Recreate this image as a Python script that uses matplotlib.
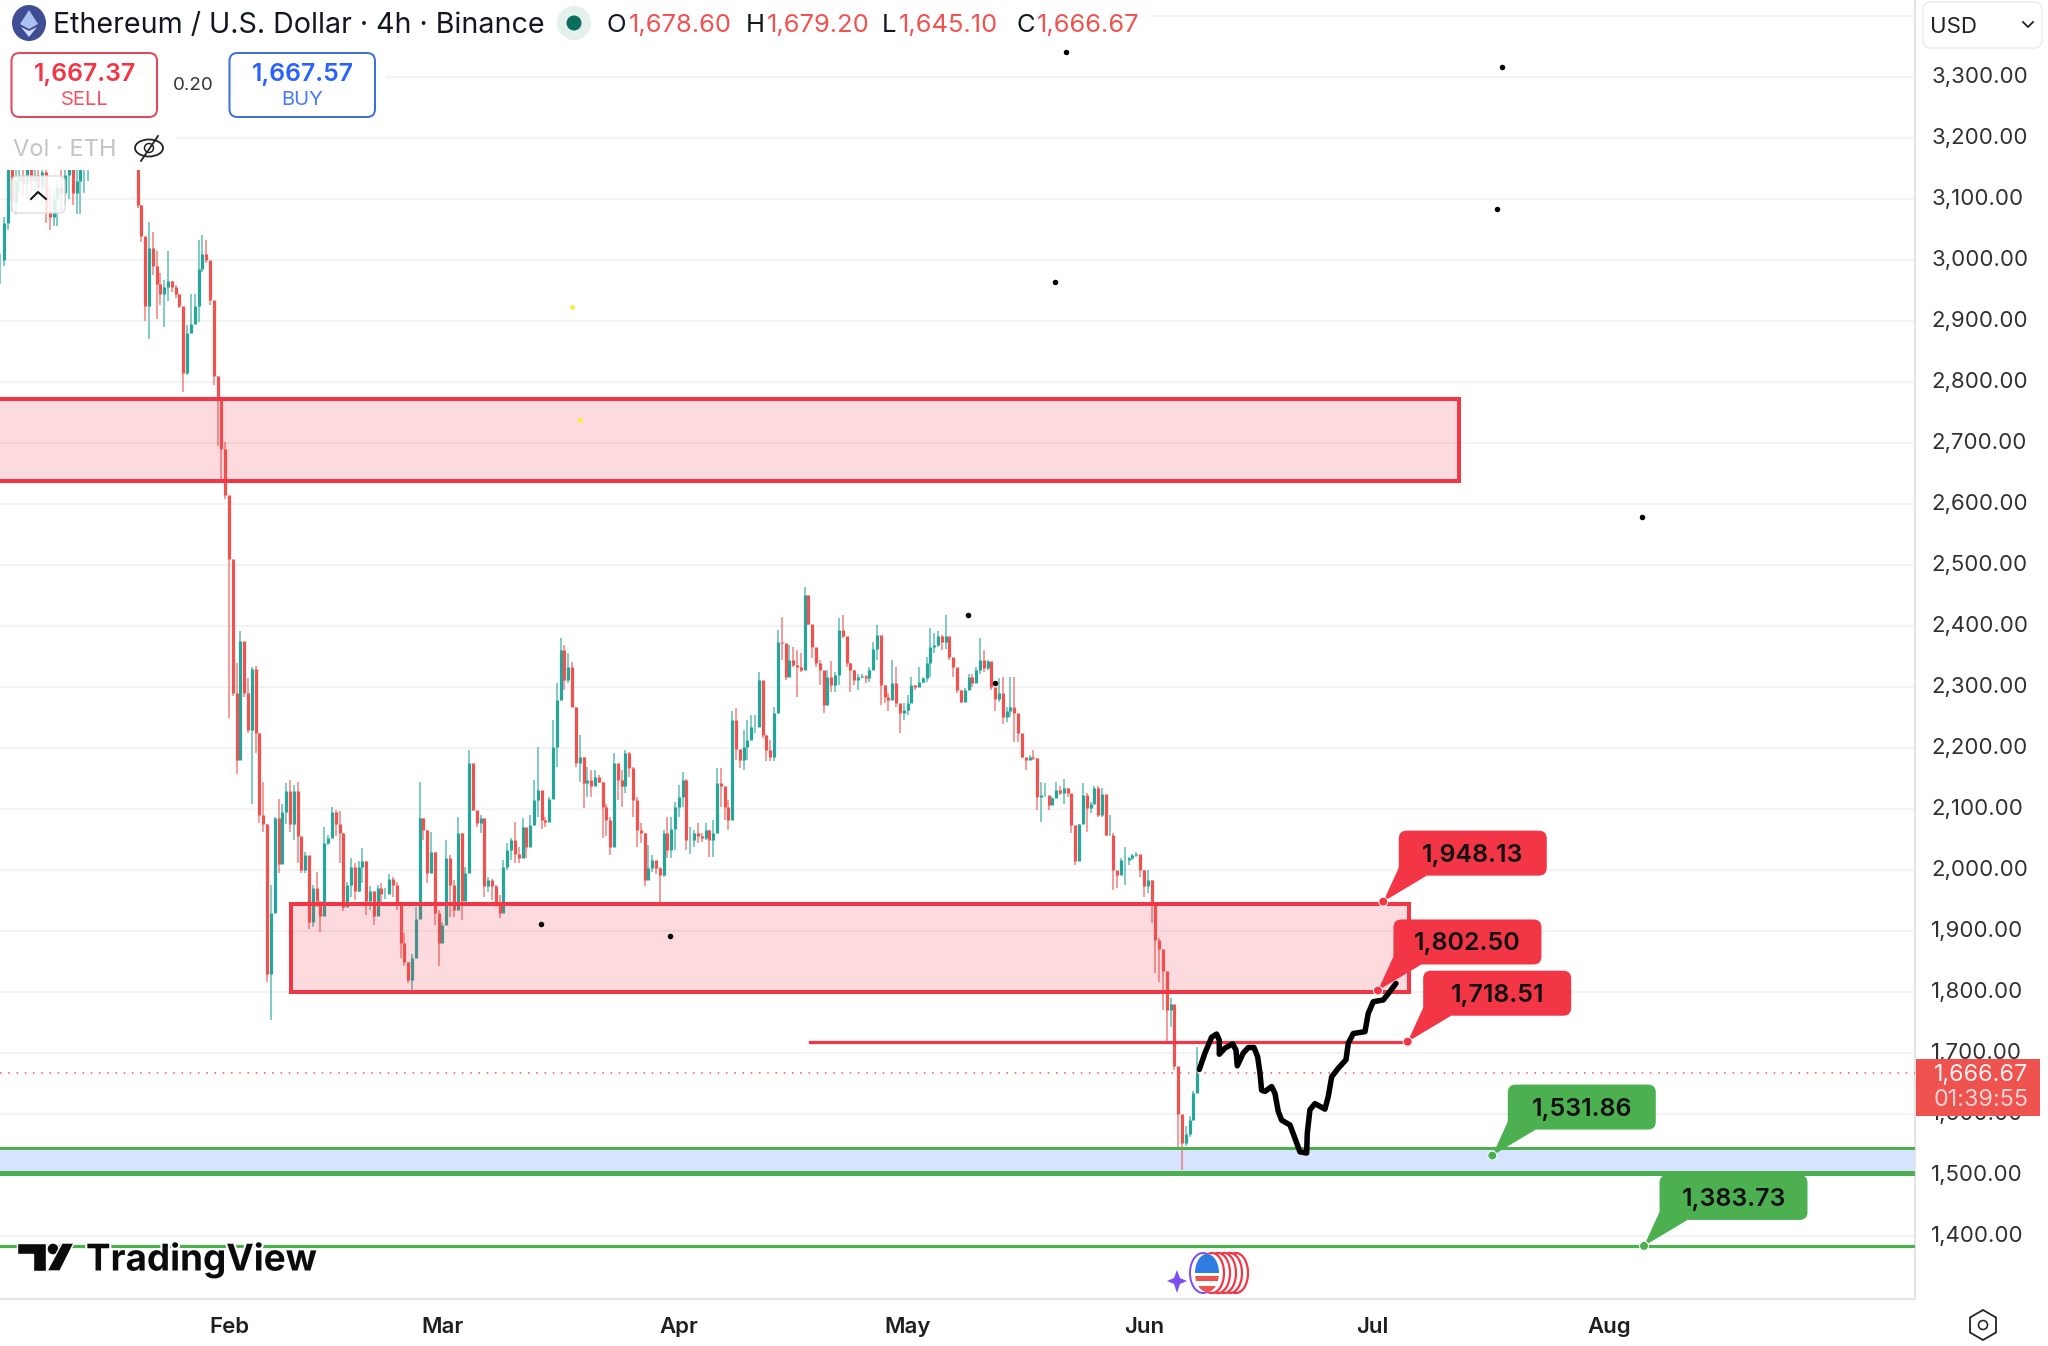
import matplotlib
matplotlib.use("Agg")
import matplotlib.pyplot as plt
import numpy as np
from matplotlib.patches import Circle, Ellipse, FancyBboxPatch, Polygon, Rectangle, RegularPolygon
from matplotlib.transforms import ScaledTranslation
import matplotlib.patheffects as pe

plt.rcParams['font.family'] = ['Inter', 'DejaVu Sans']

nan = float('nan')

# 12h candles, x is days since 1 Feb. nan = hidden behind the header
highs = [3010,3070,3175,3175,3170,3175,3175,3175,3175,3175,3175,3175,3175,3120,3110,3130,3150,3170,3175,3175,3175,3175,3180,3190,
    nan,nan,nan,nan,nan,nan,nan,nan,nan,nan,nan,nan,
    3170,3090,2998,3062,3046,3014,2978,2967,3015,2965,2959,2945,2921,2893,2945,2945,3033,3041,3033,2995,2926,2810,2762,2702,2610,2475,2340,2392,2355,2314,2333,2335,2225,2145,2075,
    1975,2087,2117,2109,2142,2147,2139,2145,2046,2030,2000,1975,1997,1940,2071,2057,2104,2098,2096,2060,1981,2019,2011,2014,2036,2015,1973,1965,1975,1978,1970,1994,1989,1981,1945,1896,1850,1863,1940,2145,2085,2065,2063,2030,1934,1915,2049,2025,1984,2087,2060,2005,
    2197,2137,2093,2090,2060,1989,1986,1975,1959,2016,2044,2052,2079,2038,2085,2060,2090,2147,2202,2126,2087,2120,2246,2306,2380,2369,2355,2341,2267,2221,2186,2169,2164,2164,2156,2145,2109,2087,2191,2167,2164,2197,2194,2169,2120,2077,2060,2041,2025,2008,2005,2066,2087,2087,2112,2139,2161,2150,2071,2066,2077,2060,2077,2066,2082,2167,2167,2115,2115,2260,2265,2191,2229,2246,2254,2254,2325,2284,2221,
    2213,2268,2393,2415,2336,2369,2366,2361,2355,2464,2451,2391,2355,2344,2301,2328,2342,2325,2413,2418,2380,2339,2328,2322,2322,2320,2333,2374,2402,2331,2303,2290,2344,2333,2270,2273,2287,2317,2303,2333,2317,2350,2396,2388,2391,2385,2418,2380,2344,2303,2295,2298,2322,2322,2333,2380,2361,2344,2336,2292,2314,2317,2268,2317,2317,2232,
    2210,2183,2189,2197,2183,2145,2142,2118,2120,2145,2137,2150,2134,2123,2066,2076,2142,2126,2112,2137,2137,2134,2079,2090,2060,1995,2019,2038,2022,2027,2030,2025,2000,2000,1984,1913,1888,1847,1814,1790,1746,1672,1585,1580,1596,1637,1710]
lows = [2960,2990,3050,3080,3075,3110,3105,3100,3110,3095,3100,3090,3060,3050,3055,3055,3080,3090,3100,3090,3075,3075,3110,3130,
    nan,nan,nan,nan,nan,nan,nan,nan,nan,nan,nan,nan,
    3085,3030,2900,2870,2975,2904,2926,2890,2932,2948,2937,2921,2784,2811,2880,2902,2899,2981,2995,2926,2795,2695,2639,2609,2250,2285,2158,2284,2284,2224,2109,2191,2077,2063,1817,
    1754,1930,1995,2038,2076,2063,2049,2011,1995,1995,1904,1907,1940,1899,1925,2041,2052,2055,2011,1932,1940,1956,1951,1964,1978,1926,1934,1910,1924,1945,1953,1960,1956,1934,1855,1842,1814,1803,1855,1920,2049,1978,1995,1910,1842,1880,1910,1923,1923,1935,1918,1951,
    2040,2096,2071,2060,1956,1964,1951,1940,1921,1967,2000,2016,2011,2011,2022,2019,2046,2082,2087,2068,2071,2085,2120,2169,2295,2295,2306,2267,2169,2145,2101,2120,2120,2145,2142,2052,2055,2025,2038,2115,2104,2126,2153,2087,2038,2044,1973,1989,1997,1994,1945,1989,2019,2019,2033,2087,2104,2033,2027,2038,2044,2046,2049,2022,2022,2060,2104,2082,2066,2082,2180,2167,2164,2180,2213,2224,2235,2216,2178,
    2178,2178,2257,2344,2311,2317,2333,2284,2325,2328,2402,2347,2333,2303,2257,2287,2292,2292,2303,2380,2333,2292,2303,2295,2314,2306,2309,2328,2344,2270,2273,2260,2279,2268,2224,2246,2254,2284,2295,2300,2306,2309,2317,2355,2366,2361,2363,2344,2317,2290,2273,2276,2298,2300,2322,2322,2325,2328,2295,2260,2276,2240,2243,2251,2210,2210,
    2183,2164,2180,2180,2098,2079,2120,2098,2107,2120,2123,2109,2120,2060,2009,2033,2115,2063,2093,2126,2087,2087,2055,2055,1967,1970,2005,1975,2008,2016,2022,1989,1956,1962,1913,1831,1817,1770,1716,1743,1672,1544,1508,1547,1563,1607,1645]
closes = [3000,3060,3150,3095,3130,3140,3125,3150,3130,3140,3120,3145,3080,3070,3100,3120,3110,3140,3160,3110,3130,3165,3170,3180,
    nan,nan,nan,nan,nan,nan,nan,nan,nan,nan,nan,nan,
    3090,3040,2925,3020,2990,2960,2945,2955,2965,2955,2945,2925,2815,2880,2895,2925,2985,3010,3000,2935,2810,2770,2690,2615,2510,2290,2180,2375,2290,2230,2330,2225,2090,2075,1830,
    1930,2085,2010,2095,2130,2075,2130,2055,2000,2025,1915,1970,1950,1925,2045,2052,2095,2075,2060,1940,1975,2005,1965,2005,2015,1950,1965,1925,1970,1960,1960,1985,1975,1945,1880,1850,1820,1855,1920,2085,2065,1995,2030,1930,1880,1910,2020,1975,1935,2060,1950,1995,
    2175,2098,2077,2085,1973,1984,1973,1945,1929,2005,2033,2049,2027,2019,2071,2038,2074,2115,2131,2082,2079,2117,2202,2279,2361,2311,2333,2268,2175,2186,2142,2147,2137,2153,2145,2104,2082,2038,2175,2147,2137,2191,2167,2115,2066,2060,1984,2003,2016,2003,1992,2060,2033,2068,2104,2120,2147,2049,2049,2060,2055,2052,2066,2049,2060,2142,2137,2104,2082,2246,2199,2180,2202,2213,2235,2235,2311,2221,2197,
    2186,2257,2374,2372,2317,2344,2336,2333,2328,2451,2404,2366,2339,2328,2270,2317,2303,2320,2393,2383,2339,2328,2311,2317,2318,2314,2328,2363,2385,2303,2284,2279,2306,2273,2257,2262,2273,2303,2300,2309,2314,2339,2366,2369,2383,2374,2383,2350,2333,2295,2276,2295,2317,2306,2328,2344,2331,2342,2300,2281,2290,2251,2260,2268,2257,2224,
    2186,2180,2185,2183,2120,2123,2123,2107,2118,2131,2126,2134,2126,2074,2015,2076,2123,2101,2109,2135,2090,2125,2058,2058,2000,1992,2016,2016,2019,2025,2027,2000,1973,1984,1945,1885,1870,1835,1770,1780,1678,1600,1552,1568,1590,1634,1667]

month_days = [0, 28, 59, 89, 120, 150, 181]
month_labels = ['Feb', 'Mar', 'Apr', 'May', 'Jun', 'Jul', 'Aug']
price_ticks = list(range(1400, 3500, 100))

last_price = 1666.67
zone_upper = (2638, 2772, -31, 161.3)
zone_lower = (1800, 1944, 8.1, 154.8)
level_red = (1718.51, 76.2, 154.8)
band_low, band_high = 1504, 1544
level_green = 1383.73

callout_values = [1948.13, 1802.50, 1718.51, 1531.86, 1383.73]
callout_days = [151.4, 150.7, 154.6, 165.7, 185.6]
callout_colors = ['#f23645', '#f23645', '#f23645', '#4caf50', '#4caf50']

dot_days = [109.8, 167.0, 166.3, 108.3, 185.3, 96.9, 100.5, 40.9, 57.8]
dot_prices = [3341, 3316, 3084, 2964, 2579, 2418, 2307, 1911, 1892]
yellow_days = [45, 46]
yellow_prices = [2923, 2738]

# hand drawn projection
path_days = [127.27,128.01,128.89,129.54,129.89,129.89,130.63,131.64,132.08,132.25,133.04,133.70,134.44,134.92,135.23,135.44,135.88,136.76,137.19,137.63,138.07,139.16,139.82,140.47,141.35,141.43,141.78,142.44,143.75,144.19,144.63,145.50,146.51,146.81,147.47,149.0,149.43,150.09,151.40,152.28,153.06]
path_prices = [1673,1700,1726,1731,1721,1698,1708,1715,1705,1679,1700,1709,1709,1694,1667,1639,1637,1645,1634,1604,1590,1582,1560,1538,1536,1568,1607,1617,1608,1629,1661,1675,1689,1716,1732,1735,1765,1784,1787,1801,1814]

W, H = 2048, 1346
AX_R, AX_B = 1914.5, 1299
px = 1 / 100 * 72  # one pixel in points

fig = plt.figure(figsize=(W / 100, H / 100), dpi=100, facecolor='white')
ax = fig.add_axes([0, (H - AX_B) / H, AX_R / W, AX_B / H])
ax.set_xlim((0 - 229) / 7.624, (AX_R - 229) / 7.624)
ax.set_ylim(1800 - (AX_B - 992) / 0.61, 1800 + 992 / 0.61)
ax.set_facecolor('white')

ui = fig.add_axes([0, 0, 1, 1], zorder=5)
ui.set_xlim(0, W)
ui.set_ylim(H, 0)
ui.axis('off')
ui.patch.set_alpha(0)

for s in ['top', 'left']:
    ax.spines[s].set_visible(False)
for s in ['right', 'bottom']:
    ax.spines[s].set_color('#e4e4e6')
    ax.spines[s].set_linewidth(2 * px)

ax.yaxis.tick_right()
ax.set_yticks(price_ticks)
# 3,400 only has a gridline, the USD box sits where its label would be
ax.set_yticklabels(['{:,.2f}'.format(p) if p < 3400 else '' for p in price_ticks], fontsize=16, color='#303033')
ax.tick_params(axis='y', length=0, pad=12)
# labels sit a little above their gridline
up_shift = ScaledTranslation(0, 2 / 100, fig.dpi_scale_trans)
for lab in ax.get_yticklabels():
    lab.set_transform(lab.get_transform() + up_shift)
ax.set_xticks(month_days)
ax.set_xticklabels(month_labels, fontsize=16, fontweight='semibold', color='#1f1f22')
ax.tick_params(axis='x', length=0, pad=13)
ax.grid(axis='y', color='#f3f3f5', lw=2 * px, zorder=0)
ax.set_axisbelow(True)

# candles
highs, lows, closes = np.array(highs, float), np.array(lows, float), np.array(closes, float)
days = -30 + 0.5 * np.arange(len(highs))
opens = np.r_[closes[0], closes[:-1]]
opens = np.where(np.isnan(opens), highs, opens)
ok = ~np.isnan(closes)
up = closes >= opens
cols = np.where(up, '#26a69a', '#ef5350')
ax.vlines(days[ok], lows[ok], highs[ok], colors=cols[ok], lw=1.5 * px, alpha=0.75, zorder=2)
ax.vlines(days[ok], opens[ok], closes[ok], colors=cols[ok], lw=3.2 * px, zorder=3)

# zones
for low, high, d0, d1 in [zone_upper, zone_lower]:
    ax.add_patch(Rectangle((d0, low), d1 - d0, high - low, fc='#f23645', alpha=0.18, ec='none', zorder=4))
    ax.add_patch(Rectangle((d0, low), d1 - d0, high - low, fc='none', ec='#f23645', lw=4 * px, zorder=4.1))
ax.plot(level_red[1:], [level_red[0]] * 2, color='#f23645', lw=3.2 * px, zorder=4)
ax.axhspan(band_low, band_high, color='#d6e4fd', lw=0, zorder=1.5)
ax.axhline(band_high, color='#4caf50', lw=3 * px, zorder=4)
ax.axhline(band_low, color='#4caf50', lw=5 * px, zorder=4)
ax.axhline(level_green, color='#4caf50', lw=3.2 * px, zorder=4)
ax.axhline(last_price, color='#ef5350', lw=1.5 * px, ls=(0, (1, 4.5)), zorder=4)

ax.scatter(dot_days, dot_prices, s=(5.5 * px) ** 2, color='black', lw=0, zorder=6, clip_on=True)
ax.scatter(yellow_days, yellow_prices, s=(5 * px) ** 2, color='#fdec3c', lw=0, zorder=6)

# callouts, positioned from their anchor in pixels
to_px = ax.transData + ui.transData.inverted()
for val, d, c in zip(callout_values, callout_days, callout_colors):
    ax_x, ax_y = to_px.transform((d, val))
    left, top = ax_x + 15.5, ax_y - 71
    ax.add_patch(Polygon([(ax_x, ax_y), (left, top + 37), (left + 28, top + 45)], fc=c, ec='none', zorder=7, transform=ui.transData, clip_on=False))
    ax.add_patch(FancyBboxPatch((left, top), 148, 45, boxstyle='round,pad=0,rounding_size=8', fc=c, ec='none', zorder=7, transform=ui.transData, clip_on=False))
    ax.add_patch(Circle((ax_x, ax_y), 4.5, fc=c, ec='white', lw=1 * px, zorder=7, transform=ui.transData, clip_on=False))
    ax.text(left + 74, top + 24.5, '{:,.2f}'.format(val), fontsize=18, fontweight='semibold', color='#111111', ha='center', va='center', zorder=8, transform=ui.transData)

ax.plot(path_days, path_prices, color='black', lw=5.5 * px, solid_joinstyle='round', solid_capstyle='round', zorder=9)

# header and other chrome, in pixels
for x, y, w, h in [(0, 0, 1150, 47), (0, 47, 386, 78), (0, 125, 177, 45)]:
    ui.add_patch(Rectangle((x, y), w, h, fc='white', ec='none', zorder=1))

ui.add_patch(Ellipse((29, 23), 34, 36, fc='#3f4d94', ec='none', zorder=2))
ui.add_patch(Polygon([(29, 10), (38, 24), (29, 29), (20, 24)], fc='#a9c2f2', ec='none', zorder=3))
ui.add_patch(Polygon([(29, 31), (37, 27), (29, 37), (21, 27)], fc='#cfdcf8', ec='none', zorder=3))
txt = dict(va='center', zorder=3)
ui.text(53, 26, 'Ethereum / U.S. Dollar · 4h · Binance', fontsize=20.55, color='#131722', **txt)
ui.add_patch(Ellipse((574, 23), 34, 34, fc='#e3f0ec', ec='none', zorder=2))
ui.add_patch(Circle((574, 23), 7.5, fc='#0a6e5c', ec='none', zorder=3))
for lab, x0, val, x1 in [('O', 607, '1,678.60', 629), ('H', 746, '1,679.20', 767), ('L', 882, '1,645.10', 899), ('C', 1016, '1,666.67', 1037)]:
    ui.text(x0, 26, lab, fontsize=18.4, color='#131722', **txt)
    ui.text(x1, 26, val, fontsize=18.4, color='#ef5350', **txt)

for x0, c, price, lab, tc in [(11.5, '#e2475a', '1,667.37', 'SELL', '#f23645'), (229.5, '#3d6fe0', '1,667.57', 'BUY', '#2962ff')]:
    ui.add_patch(FancyBboxPatch((x0, 53), 145.5, 64, boxstyle='round,pad=0,rounding_size=8', fc='white', ec=c, lw=2 * px, zorder=2))
    ui.text(x0 + 73, 74, price, fontsize=17.8, fontweight='semibold', color=tc, ha='center', va='center', zorder=3)
    ui.text(x0 + 73, 100, lab, fontsize=14.5, color=tc, alpha=0.85, ha='center', va='center', zorder=3)
ui.text(193, 86, '0.20', fontsize=13.5, color='#333333', ha='center', va='center', zorder=3)
ui.text(13, 150, 'Vol · ETH', fontsize=17, color='#c2c4c8', **txt)
ui.add_patch(Ellipse((149, 148), 28, 17, fc='none', ec='#222222', lw=1.8 * px, zorder=3))
ui.add_patch(Circle((149, 148), 4.5, fc='none', ec='#222222', lw=1.5 * px, zorder=3))
ui.plot([141, 158], [161, 136], color='#222222', lw=1.8 * px, zorder=3)

ui.add_patch(FancyBboxPatch((11.5, 176), 53.5, 37, boxstyle='round,pad=0,rounding_size=6', fc='white', alpha=0.85, ec='#dcdcdc', lw=1.5 * px, zorder=2))
ui.plot([31, 38, 46], [199, 192, 199], color='#111111', lw=2 * px, zorder=3)

# price axis bits
ui.add_patch(Rectangle((1916, 0), 132, 52, fc='white', ec='none', zorder=1))
ui.add_patch(FancyBboxPatch((1923, 2), 119, 46, boxstyle='round,pad=0,rounding_size=8', fc='white', ec='#ececee', lw=1.5 * px, zorder=2))
ui.text(1930, 27, 'USD', fontsize=16, color='#222222', **txt)
ui.plot([2023, 2028, 2033], [22, 27, 22], color='#222222', lw=1.8 * px, zorder=3)
ui.add_patch(Rectangle((1915.5, 1058.5), 124.5, 57.5, fc='#ef5350', ec='none', zorder=2))
ui.text(1981, 1075, '{:,.2f}'.format(last_price), fontsize=16.8, color='#fff1f1', ha='center', va='center', zorder=3)
ui.text(1981, 1100, '01:39:55', fontsize=16.8, color='#fbd3d3', ha='center', va='center', zorder=3)
ui.add_patch(RegularPolygon((1983, 1325), 6, radius=15, orientation=0, fc='white', ec='#222222', lw=1.8 * px, zorder=3))
ui.add_patch(Circle((1983, 1325), 4.5, fc='white', ec='#222222', lw=1.6 * px, zorder=4))

# tradingview mark
halo = [pe.withStroke(linewidth=3, foreground='white')]
ui.add_patch(Polygon([(17, 1243), (46, 1243), (46, 1271), (33, 1271), (33, 1254), (17, 1254)], fc='#0b0b0d', ec='white', lw=1, zorder=3))
ui.add_patch(Circle((53, 1249), 6, fc='#0b0b0d', ec='white', lw=1, zorder=3))
ui.add_patch(Polygon([(62, 1243), (74, 1243), (60, 1271), (47, 1271)], fc='#0b0b0d', ec='white', lw=1, zorder=3))
ui.text(86, 1260, 'TradingView', fontsize=26.5, fontweight='bold', color='#0b0b0d', va='center', zorder=3, path_effects=halo)

# flag badge
for cx in [1236, 1230, 1224, 1218, 1212]:
    ui.add_patch(Ellipse((cx, 1273), 24, 40, fc='white', ec='#f23645', lw=2.2 * px, zorder=2))
ui.add_patch(Ellipse((1203, 1273), 26, 40, fc='none', ec='#7e4ff0', lw=2 * px, zorder=2))
flag = Ellipse((1207, 1273), 24, 38, fc='white', ec='none', zorder=3)
ui.add_patch(flag)
for y0, h0, c in [(1254, 19, '#2f7de1'), (1276, 5, '#ef5350'), (1286, 8, '#ef5350')]:
    r = Rectangle((1194, y0), 28, h0, fc=c, ec='none', zorder=4)
    ui.add_patch(r)
    r.set_clip_path(flag)
ui.add_patch(Polygon([(1177, 1270), (1180, 1278), (1187, 1281), (1180, 1284), (1177, 1293), (1174, 1284), (1167, 1281), (1174, 1278)], fc='#7e4ff0', ec='none', zorder=4))

fig.savefig('out.png', dpi=100)
